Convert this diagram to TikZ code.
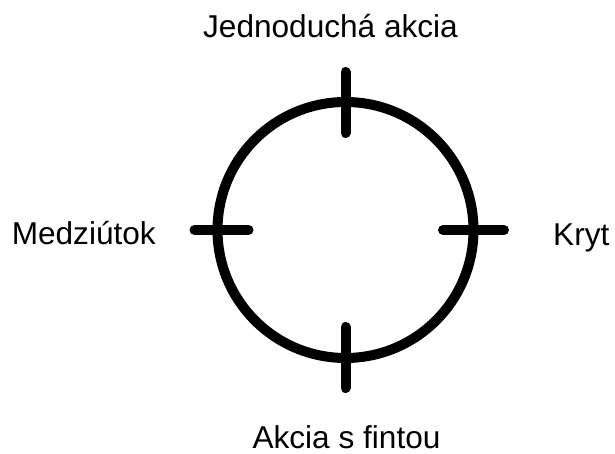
\documentclass[tikz,border=0pt]{standalone}
\usepackage{fontspec}
\setmainfont{Liberation Sans}
\usetikzlibrary{calc}
\begin{document}
\begin{tikzpicture}[x=1pt,y=1pt,
  lbl/.style={inner sep=0pt,font=\fontsize{31.6}{36}\selectfont,text=black},
  ring/.style={draw=black,line width=10pt,circle,minimum size=256pt,inner sep=0pt},
  tickline/.style={draw=black,line width=10pt,line cap=round}]
\useasboundingbox (0,0) rectangle (615,454);
\node[ring] (c) at (345.5,224) {};
% tick end points
\coordinate (ti) at ($(c.center)+(0,97)$);
\coordinate (to) at ($(c.center)+(0,158)$);
\coordinate (bi) at ($(c.center)+(0,-97)$);
\coordinate (bo) at ($(c.center)+(0,-158)$);
\coordinate (li) at ($(c.center)+(-97,0)$);
\coordinate (lo) at ($(c.center)+(-151,0)$);
\coordinate (ri) at ($(c.center)+(97.5,0)$);
\coordinate (ro) at ($(c.center)+(158.5,0)$);
\draw[tickline] (ti) -- (to);
\draw[tickline] (bi) -- (bo);
\draw[tickline] (li) -- (lo);
\draw[tickline] (ri) -- (ro);
% labels
\node[lbl,anchor=base] (top) at (330.5,416) {Jednoduchá akcia};
\node[lbl,anchor=base] (bot) at (346.5,5) {Akcia s fintou};
\node[lbl,anchor=base east] (lft) at (156,209) {Medziútok};
\node[lbl,anchor=base west] (rgt) at (553,208) {Kryt};
\end{tikzpicture}
\end{document}
